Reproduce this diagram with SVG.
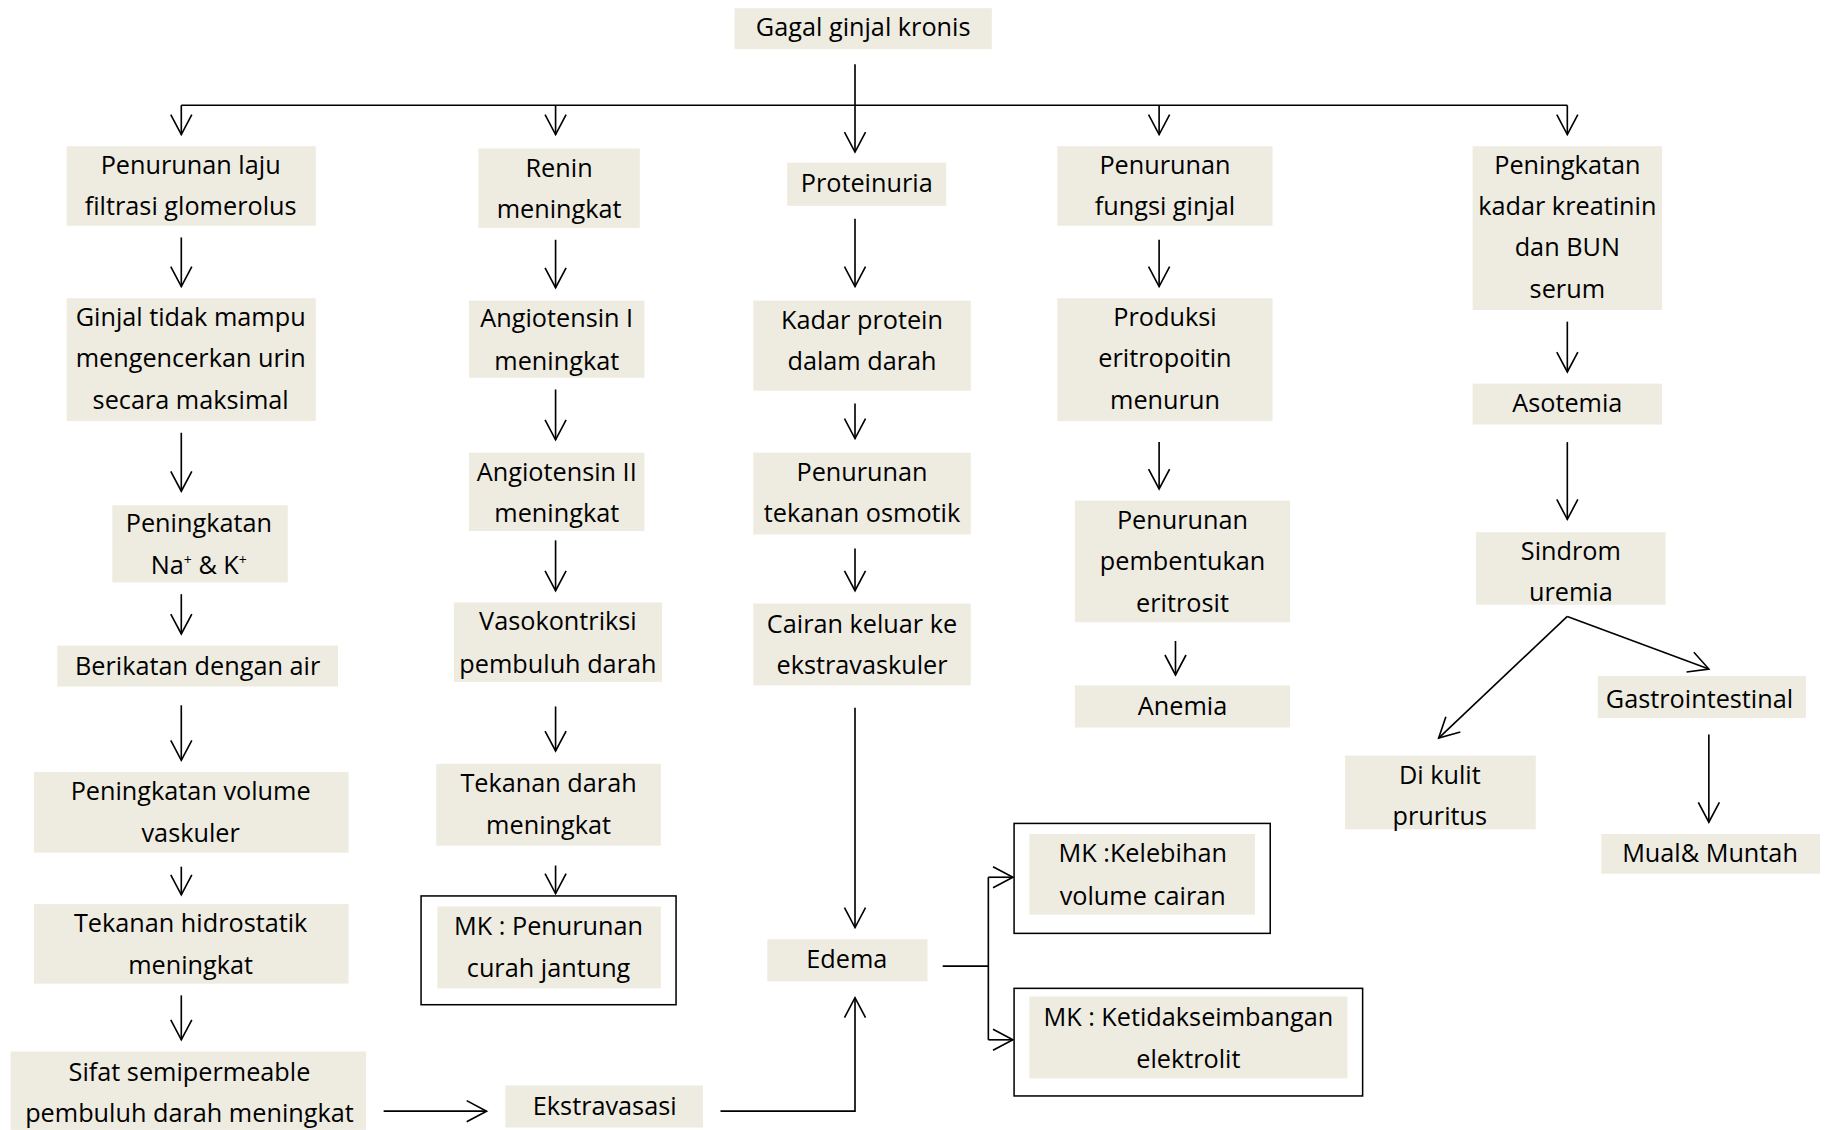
<svg xmlns="http://www.w3.org/2000/svg" width="1834" height="1130" viewBox="0 0 1834 1130">
<defs>
<style>
.b{fill:#EEECE1;stroke:none}
.o{fill:#fff;stroke:#000;stroke-width:1.3}
.t{font-family:"Open Sans","Liberation Sans",sans-serif;font-size:21.6px;fill:#000;text-anchor:middle}
.c{fill:none;stroke:#000;stroke-width:1.4}
.a{marker-end:url(#ah)}
</style>
<marker id="ah" markerUnits="userSpaceOnUse" markerWidth="20" markerHeight="20" refX="0" refY="0" orient="auto" overflow="visible">
<path d="M-17,-9 L0,0 L-17,9" fill="none" stroke="#000" stroke-width="1.4"/>
</marker>
</defs>
<rect width="1834" height="1130" fill="#fff"/>
<g transform="scale(1.16964)">
<g id="connectors">
<path class="c a" d="M731,55 V130"/>
<path class="c" d="M155,90 H1340" stroke-width="2"/>
<path class="c a" d="M155,90 V115"/>
<path class="c a" d="M475,90 V115"/>
<path class="c a" d="M991,90 V115"/>
<path class="c a" d="M1340,90 V115"/>
<path class="c a" d="M155,203 V245"/>
<path class="c a" d="M155,370 V420"/>
<path class="c a" d="M155,508 V542"/>
<path class="c a" d="M155,603 V650"/>
<path class="c a" d="M155,741 V765"/>
<path class="c a" d="M155,851 V889"/>
<path class="c a" d="M328,950 H416"/>
<path class="c a" d="M475,205 V246"/>
<path class="c a" d="M475,333 V376"/>
<path class="c a" d="M475,462 V505"/>
<path class="c a" d="M475,604 V642"/>
<path class="c a" d="M475,740 V764"/>
<path class="c a" d="M731,187 V245"/>
<path class="c a" d="M731,345 V375"/>
<path class="c a" d="M731,469 V505"/>
<path class="c a" d="M731,605 V793"/>
<path class="c a" d="M616,950 H731 V853"/>
<path class="c" d="M806,826 H845"/>
<path class="c" d="M845,750 V889"/>
<path class="c a" d="M845,750 H866"/>
<path class="c a" d="M845,889 H866"/>
<path class="c a" d="M991,205 V245"/>
<path class="c a" d="M991,378 V418"/>
<path class="c a" d="M1005,548 V577"/>
<path class="c a" d="M1340,275 V318"/>
<path class="c a" d="M1340,378 V444"/>
<path class="c a" d="M1340,527 L1230,631"/>
<path class="c a" d="M1340,527 L1461,572"/>
<path class="c a" d="M1461,628 V703"/>
</g>
<g id="n-gagal"><rect class="b" x="628" y="7" width="220" height="35"/><text class="t" x="738" y="31">Gagal ginjal kronis</text></g>
<g id="n-lfg"><rect class="b" x="57" y="125" width="213" height="68"/><text class="t" x="163" y="149">Penurunan laju</text><text class="t" x="163" y="184">filtrasi glomerolus</text></g>
<g id="n-ginjal"><rect class="b" x="57" y="255" width="213" height="105"/><text class="t" x="163" y="279">Ginjal tidak mampu</text><text class="t" x="163" y="314">mengencerkan urin</text><text class="t" x="163" y="350">secara maksimal</text></g>
<g id="n-nak"><rect class="b" x="96" y="432" width="150" height="66"/><text class="t" x="170" y="455">Peningkatan</text><text class="t" x="170" y="491">Na<tspan baseline-shift="super" font-size="12">+</tspan> &amp; K<tspan baseline-shift="super" font-size="12">+</tspan></text></g>
<g id="n-air"><rect class="b" x="49" y="552" width="240" height="35"/><text class="t" x="169" y="577">Berikatan dengan air</text></g>
<g id="n-volume"><rect class="b" x="29" y="660" width="269" height="69"/><text class="t" x="163" y="684">Peningkatan volume</text><text class="t" x="163" y="720">vaskuler</text></g>
<g id="n-hidro"><rect class="b" x="29" y="773" width="269" height="68"/><text class="t" x="163" y="797">Tekanan hidrostatik</text><text class="t" x="163" y="833">meningkat</text></g>
<g id="n-sifat"><rect class="b" x="9" y="899" width="304" height="67"/><text class="t" x="162" y="924">Sifat semipermeable</text><text class="t" x="162" y="959">pembuluh darah meningkat</text></g>
<g id="n-ekstra"><rect class="b" x="432" y="928" width="169" height="36"/><text class="t" x="517" y="953">Ekstravasasi</text></g>
<g id="n-renin"><rect class="b" x="409" y="127" width="138" height="68"/><text class="t" x="478" y="151">Renin</text><text class="t" x="478" y="186">meningkat</text></g>
<g id="n-ang1"><rect class="b" x="401" y="257" width="150" height="66"/><text class="t" x="476" y="280">Angiotensin I</text><text class="t" x="476" y="316">meningkat</text></g>
<g id="n-ang2"><rect class="b" x="401" y="387" width="150" height="67"/><text class="t" x="476" y="411">Angiotensin II</text><text class="t" x="476" y="446">meningkat</text></g>
<g id="n-vaso"><rect class="b" x="388" y="515" width="178" height="68"/><text class="t" x="477" y="539">Vasokontriksi</text><text class="t" x="477" y="575">pembuluh darah</text></g>
<g id="n-td"><rect class="b" x="373" y="653" width="192" height="70"/><text class="t" x="469" y="677">Tekanan darah</text><text class="t" x="469" y="713">meningkat</text></g>
<g id="n-mk1"><rect class="o" x="360" y="766" width="218" height="93"/><rect class="b" x="374" y="775" width="191" height="70"/><text class="t" x="469" y="799">MK : Penurunan</text><text class="t" x="469" y="835">curah jantung</text></g>
<g id="n-prot"><rect class="b" x="673" y="139" width="136" height="37"/><text class="t" x="741" y="164">Proteinuria</text></g>
<g id="n-kadar"><rect class="b" x="644" y="257" width="186" height="77"/><text class="t" x="737" y="281">Kadar protein</text><text class="t" x="737" y="316">dalam darah</text></g>
<g id="n-osmo"><rect class="b" x="644" y="387" width="186" height="70"/><text class="t" x="737" y="411">Penurunan</text><text class="t" x="737" y="446">tekanan osmotik</text></g>
<g id="n-cairan"><rect class="b" x="644" y="516" width="186" height="70"/><text class="t" x="737" y="541">Cairan keluar ke</text><text class="t" x="737" y="576">ekstravaskuler</text></g>
<g id="n-edema"><rect class="b" x="656" y="803" width="137" height="36"/><text class="t" x="724" y="828">Edema</text></g>
<g id="n-mk2"><rect class="o" x="867" y="704" width="219" height="94"/><rect class="b" x="880" y="713" width="193" height="69"/><text class="t" x="977" y="737">MK :Kelebihan</text><text class="t" x="977" y="774">volume cairan</text></g>
<g id="n-mk3"><rect class="o" x="867" y="845" width="298" height="92"/><rect class="b" x="880" y="852" width="272" height="70"/><text class="t" x="1016" y="877">MK : Ketidakseimbangan</text><text class="t" x="1016" y="913">elektrolit</text></g>
<g id="n-fungsi"><rect class="b" x="904" y="125" width="184" height="68"/><text class="t" x="996" y="149">Penurunan</text><text class="t" x="996" y="184">fungsi ginjal</text></g>
<g id="n-epo"><rect class="b" x="904" y="255" width="184" height="105"/><text class="t" x="996" y="279">Produksi</text><text class="t" x="996" y="314">eritropoitin</text><text class="t" x="996" y="350">menurun</text></g>
<g id="n-eritro"><rect class="b" x="919" y="428" width="184" height="104"/><text class="t" x="1011" y="452">Penurunan</text><text class="t" x="1011" y="487">pembentukan</text><text class="t" x="1011" y="523">eritrosit</text></g>
<g id="n-anemia"><rect class="b" x="919" y="586" width="184" height="36"/><text class="t" x="1011" y="611">Anemia</text></g>
<g id="n-kreat"><rect class="b" x="1259" y="125" width="162" height="140"/><text class="t" x="1340" y="149">Peningkatan</text><text class="t" x="1340" y="184">kadar kreatinin</text><text class="t" x="1340" y="219">dan BUN</text><text class="t" x="1340" y="255">serum</text></g>
<g id="n-asotemia"><rect class="b" x="1259" y="328" width="162" height="35"/><text class="t" x="1340" y="352">Asotemia</text></g>
<g id="n-uremia"><rect class="b" x="1262" y="455" width="162" height="62"/><text class="t" x="1343" y="479">Sindrom</text><text class="t" x="1343" y="514">uremia</text></g>
<g id="n-kulit"><rect class="b" x="1150" y="646" width="163" height="63"/><text class="t" x="1231" y="670">Di kulit</text><text class="t" x="1231" y="705">pruritus</text></g>
<g id="n-gastro"><rect class="b" x="1366" y="578" width="178" height="36"/><text class="t" x="1453" y="605">Gastrointestinal</text></g>
<g id="n-mual"><rect class="b" x="1369" y="713" width="187" height="34"/><text class="t" x="1462" y="737">Mual&amp; Muntah</text></g>
</g>
</svg>
